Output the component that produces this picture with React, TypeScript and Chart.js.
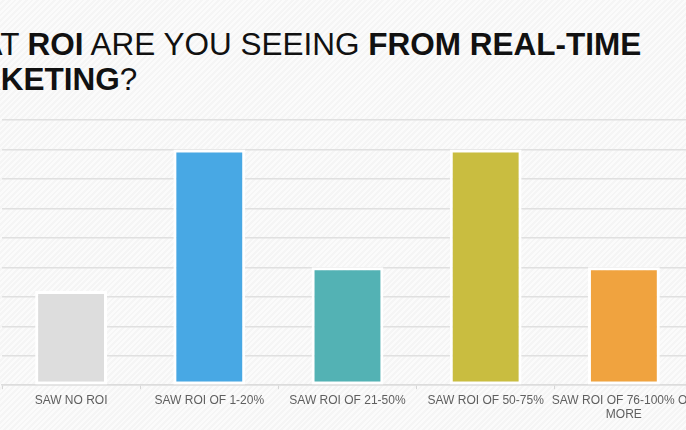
import React, { useEffect, useRef } from "react";
import { Chart, registerables } from "chart.js";

Chart.register(...registerables);

const categories: (string | string[])[] = [
  "SAW NO ROI",
  "SAW ROI OF 1-20%",
  "SAW ROI OF 21-50%",
  "SAW ROI OF 50-75%",
  ["SAW ROI OF 76-100% OR", "MORE"],
];
const values = [16, 40, 20, 40, 20];
const barColors = ["#dddddd", "#48a8e4", "#53b2b4", "#c9bd40", "#f0a33f"];
const yMax = 45;
const yStep = 5;

export default function App() {
  const canvasRef = useRef<HTMLCanvasElement | null>(null);

  useEffect(() => {
    if (!canvasRef.current) return;
    const chart = new Chart(canvasRef.current, {
      type: "bar",
      data: {
        labels: categories,
        datasets: [
          {
            data: values,
            backgroundColor: barColors,
            borderColor: "#ffffff",
            borderWidth: 3,
            borderSkipped: false,
            barPercentage: 0.52,
            categoryPercentage: 1,
          },
        ],
      },
      options: {
        animation: false,
        responsive: true,
        maintainAspectRatio: false,
        layout: { padding: { top: 120, left: 2, right: 0, bottom: 4 } },
        plugins: { legend: { display: false }, tooltip: { enabled: false } },
        scales: {
          x: {
            grid: {
              drawOnChartArea: false,
              drawTicks: true,
              tickLength: 4,
              color: "#d6d6d6",
              offset: true,
            },
            border: { display: true, color: "#dcdcdc", width: 1.5 },
            ticks: {
              color: "#5f5f5f",
              font: { family: "'Liberation Sans', Arial, Helvetica, sans-serif", size: 12 },
              padding: 4,
              maxRotation: 0,
              minRotation: 0,
              autoSkip: false,
            },
          },
          y: {
            min: 0,
            max: yMax,
            grid: { color: "#e0e0e0", lineWidth: 1.5, drawTicks: false },
            border: { display: false },
            ticks: { display: false, stepSize: yStep },
          },
        },
      },
    });
    return () => chart.destroy();
  }, []);

  return (
    <div
      style={{
        position: "fixed",
        left: 0,
        top: 0,
        width: 686,
        height: 430,
        overflow: "hidden",
        background:
          "repeating-linear-gradient(135deg, #fbfbfb 0px, #fbfbfb 2px, #f5f5f5 2px, #f5f5f5 4px)",
      }}
    >
      <div
        style={{
          position: "absolute",
          left: -71,
          top: 27,
          whiteSpace: "nowrap",
          fontFamily: "'Liberation Sans', Arial, Helvetica, sans-serif",
          fontSize: 31.5,
          lineHeight: "35px",
          color: "#111",
        }}
      >
        WHAT <b>ROI</b> ARE YOU SEEING <b>FROM REAL-TIME</b>
        <br />
        <b>MARKETING</b>?
      </div>
      <div style={{ position: "absolute", left: 0, top: 0, width: 700, height: 430 }}>
        <canvas ref={canvasRef} />
      </div>
    </div>
  );
}
